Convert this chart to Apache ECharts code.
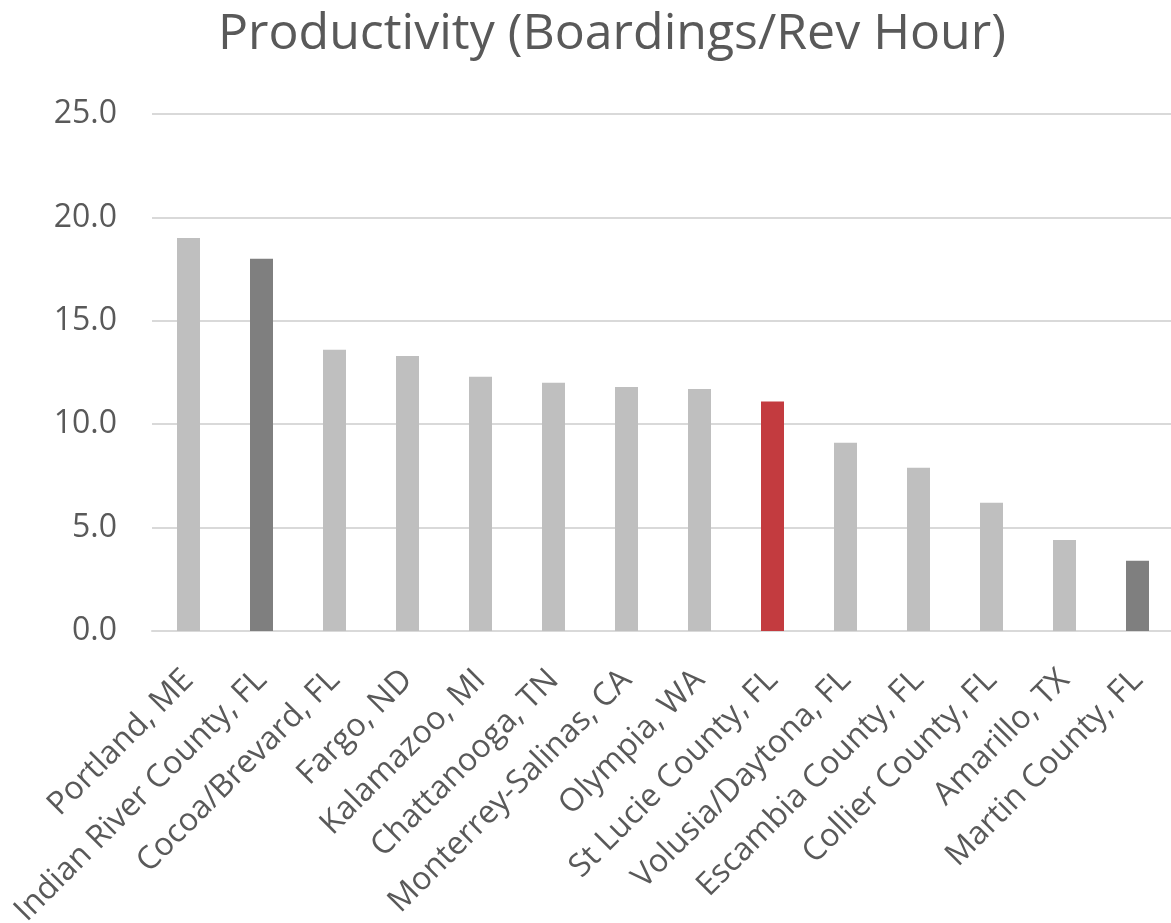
<!DOCTYPE html>
<html>
<head>
<meta charset="utf-8">
<script src="https://cdn.jsdelivr.net/npm/echarts@6/dist/echarts.min.js"></script>
<style>
  html, body { margin: 0; padding: 0; background: #fff; }
  #chart { width: 1171px; height: 923px; }
</style>
</head>
<body>
<div id="chart"></div>
<script>
// agencies, sorted by productivity
const categories = [
  'Portland, ME', 'Indian River County, FL', 'Cocoa/Brevard, FL', 'Fargo, ND',
  'Kalamazoo, MI', 'Chattanooga, TN', 'Monterrey-Salinas, CA', 'Olympia, WA',
  'St Lucie County, FL', 'Volusia/Daytona, FL', 'Escambia County, FL',
  'Collier County, FL', 'Amarillo, TX', 'Martin County, FL'
];
const values = [19.0, 18.0, 13.6, 13.3, 12.3, 12.0, 11.8, 11.7, 11.1, 9.1, 7.9, 6.2, 4.4, 3.4];
// which bars are highlighted
const barKind = ['base', 'dark', 'base', 'base', 'base', 'base', 'base', 'base', 'red', 'base', 'base', 'base', 'base', 'dark'];
const yTicks = [0, 5, 10, 15, 20, 25];

const colors = { base: '#BFBFBF', dark: '#7F7F7F', red: '#C33B3F' };
const font = '"Open Sans", "Noto Sans", sans-serif';

const chart = echarts.init(document.getElementById('chart'));
chart.setOption({
  animation: false,
  title: {
    text: 'Productivity (Boardings/Rev Hour)',
    left: 213,
    top: 5,
    textStyle: { fontFamily: font, fontSize: 50, fontWeight: 'normal', color: '#595959' }
  },
  grid: { left: 152, top: 114, width: 1022, height: 517, containLabel: false, outerBoundsMode: 'none' },
  xAxis: {
    type: 'category',
    data: categories,
    axisLine: { show: true, lineStyle: { color: '#D9D9D9', width: 2 } },
    axisTick: { show: false },
    axisLabel: {
      rotate: 45,
      interval: 0,
      margin: 44,
      fontFamily: font,
      fontSize: 32,
      color: '#595959'
    }
  },
  yAxis: {
    type: 'value',
    min: yTicks[0],
    max: yTicks[yTicks.length - 1],
    interval: 5,
    axisLine: { show: false },
    axisTick: { show: false },
    splitLine: { lineStyle: { color: '#D9D9D9', width: 2 } },
    axisLabel: {
      margin: 35,
      fontFamily: font,
      fontSize: 32,
      color: '#595959',
      formatter: v => v.toFixed(1)
    }
  },
  series: [{
    type: 'bar',
    barWidth: 23,
    data: values.map((v, i) => ({ value: v, itemStyle: { color: colors[barKind[i]] } }))
  }]
});
</script>
</body>
</html>
